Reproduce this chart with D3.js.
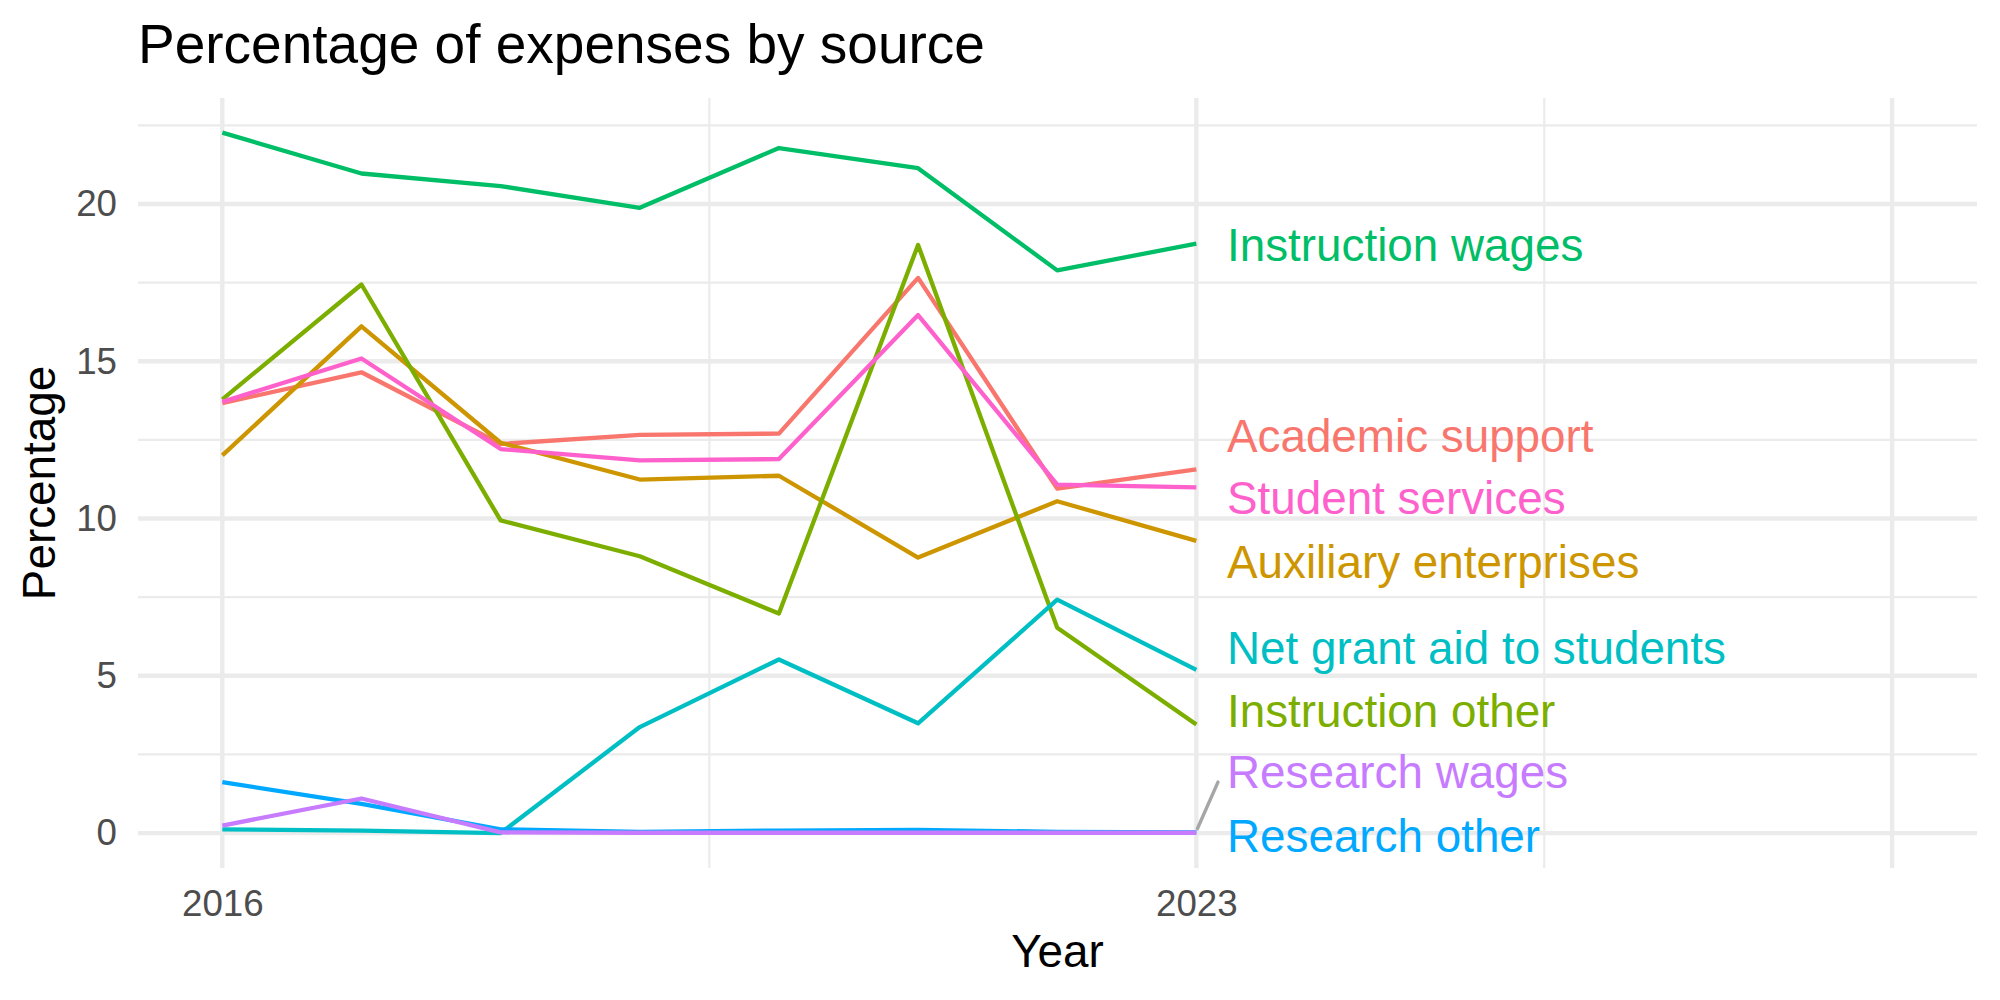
<!DOCTYPE html>
<html>
<head>
<meta charset="utf-8">
<script src="https://cdn.jsdelivr.net/npm/d3@7"></script>
<style>
  body { margin: 0; background: #fff; }
  text { font-family: "Liberation Sans", Arial, Helvetica, sans-serif; }
</style>
</head>
<body>
<svg id="chart" width="2000" height="1000"></svg>
<script>

// years on the x axis
var years = [2016, 2017, 2018, 2019, 2020, 2021, 2022, 2023]

// one array per expense source, percent of expenses
var sources = ['Academic support', 'Auxiliary enterprises', 'Instruction other',
               'Instruction wages', 'Net grant aid to students', 'Research other',
               'Research wages', 'Student services']
var academicSupport = [13.67, 14.65, 12.37, 12.66, 12.70, 17.65, 10.95, 11.56]
var auxiliaryEnterprises = [12.01, 16.11, 12.41, 11.24, 11.36, 8.76, 10.55, 9.29]
var instructionOther = [13.79, 17.44, 9.94, 8.80, 6.98, 18.70, 6.53, 3.45]
var instructionWages = [22.27, 20.97, 20.57, 19.88, 21.78, 21.14, 17.89, 18.74]
var netGrantAid = [0.12, 0.08, 0.00, 3.37, 5.52, 3.49, 7.42, 5.19]
var researchOther = [1.62, 0.93, 0.12, 0.04, 0.08, 0.10, 0.04, 0.02]
var researchWages = [0.24, 1.10, 0.02, 0.01, 0.01, 0.01, 0.01, 0.01]
var studentServices = [13.71, 15.09, 12.21, 11.85, 11.89, 16.47, 11.08, 10.99]

var colors = ['#F8766D', '#CD9600', '#7CAE00', '#00BE67', '#00BFC4', '#00A9FF', '#C77CFF', '#FF61CC']

// repelled end labels (y in data units, after repel)
var labelX = 2023.22
var labelY = [12.63, 8.63, 3.89, 18.70, 5.91, -0.09, 1.94, 10.65]

// axis breaks
var xBreaks = [2016, 2023, 2028]
var xLabels = ['2016', '2023', '']
var xMinor = [2019.5, 2025.5]
var yBreaks = [0, 5, 10, 15, 20]
var yMinor = [2.5, 7.5, 12.5, 17.5, 22.5]

///////////////////////////////

var allValues = [academicSupport, auxiliaryEnterprises, instructionOther, instructionWages,
                 netGrantAid, researchOther, researchWages, studentServices]

var series = sources.map(function(name, i) {
    return {
        name: name,
        color: colors[i],
        labelY: labelY[i],
        values: years.map(function(yr, j) { return { year: yr, value: allValues[i][j] } })
    }
})

var svg = d3.select('#chart')

var x = d3.scaleLinear().domain([2015.394, 2028.61]).range([138, 1977])
var y = d3.scaleLinear().domain([-1.11, 23.37]).range([868, 98])

var grid = svg.append('g')

// minor gridlines
grid.selectAll('line.ymin').data(yMinor).enter().append('line')
    .attr('x1', x.range()[0]).attr('x2', x.range()[1])
    .attr('y1', function(d) { return y(d) }).attr('y2', function(d) { return y(d) })
    .style('stroke', '#EBEBEB').style('stroke-width', 2.2)
grid.selectAll('line.xmin').data(xMinor).enter().append('line')
    .attr('y1', y.range()[0]).attr('y2', y.range()[1])
    .attr('x1', function(d) { return x(d) }).attr('x2', function(d) { return x(d) })
    .style('stroke', '#EBEBEB').style('stroke-width', 2.2)

// major gridlines
grid.selectAll('line.ymaj').data(yBreaks).enter().append('line')
    .attr('x1', x.range()[0]).attr('x2', x.range()[1])
    .attr('y1', function(d) { return y(d) }).attr('y2', function(d) { return y(d) })
    .style('stroke', '#EBEBEB').style('stroke-width', 4.4)
grid.selectAll('line.xmaj').data(xBreaks).enter().append('line')
    .attr('y1', y.range()[0]).attr('y2', y.range()[1])
    .attr('x1', function(d) { return x(d) }).attr('x2', function(d) { return x(d) })
    .style('stroke', '#EBEBEB').style('stroke-width', 4.4)

// axes (labels only)
var xAxis = svg.append('g')
    .attr('transform', 'translate(0,' + y.range()[0] + ')')
    .call(d3.axisBottom(x).tickValues(xBreaks)
          .tickFormat(function(d, i) { return xLabels[i] })
          .tickSize(0).tickPadding(22))
var yAxis = svg.append('g')
    .attr('transform', 'translate(' + x.range()[0] + ',0)')
    .call(d3.axisLeft(y).tickValues(yBreaks).tickSize(0).tickPadding(21))

svg.selectAll('.domain').remove()
svg.selectAll('.tick text')
    .style('font-family', '"Liberation Sans", Arial, sans-serif')
    .style('font-size', '36.7px')
    .style('fill', '#4D4D4D')

// lines
var line = d3.line()
    .x(function(d) { return x(d.year) })
    .y(function(d) { return y(d.value) })

svg.append('g').selectAll('path')
    .data(series)
    .enter()
    .append('path')
    .attr('d', function(d) { return line(d.values) })
    .style('fill', 'none')
    .style('stroke', function(d) { return d.color })
    .style('stroke-width', 4.3)
    .style('stroke-linejoin', 'round')
    .style('stroke-linecap', 'butt')

// segment for labels pushed away from their point
var labelSize = 45.8
series.forEach(function(s) {
    var last = s.values[s.values.length - 1]
    var py = y(last.value), ly = y(s.labelY)
    if (Math.abs(py - ly) > 40) {
        svg.append('line')
            .attr('x1', x(last.year) + 1).attr('y1', py - 4)
            .attr('x2', x(labelX) - 9).attr('y2', ly + 10)
            .style('stroke', '#A6A6A6').style('stroke-width', 3.4)
            .style('stroke-linecap', 'round')
    }
})

// end labels
svg.append('g').selectAll('text')
    .data(series)
    .enter()
    .append('text')
    .attr('x', x(labelX))
    .attr('y', function(d) { return y(d.labelY) + labelSize * 0.358 })
    .style('font-size', labelSize + 'px')
    .style('fill', function(d) { return d.color })
    .text(function(d) { return d.name })

// titles
svg.append('text')
    .attr('x', 138).attr('y', 63)
    .style('font-size', '55px')
    .style('fill', '#000')
    .text('Percentage of expenses by source')

svg.append('text')
    .attr('x', (x.range()[0] + x.range()[1]) / 2).attr('y', 967)
    .attr('text-anchor', 'middle')
    .style('font-size', '45.8px')
    .text('Year')

svg.append('text')
    .attr('transform', 'translate(55,' + (y.range()[0] + y.range()[1]) / 2 + ') rotate(-90)')
    .attr('text-anchor', 'middle')
    .style('font-size', '45.8px')
    .text('Percentage')

</script>
</body>
</html>
